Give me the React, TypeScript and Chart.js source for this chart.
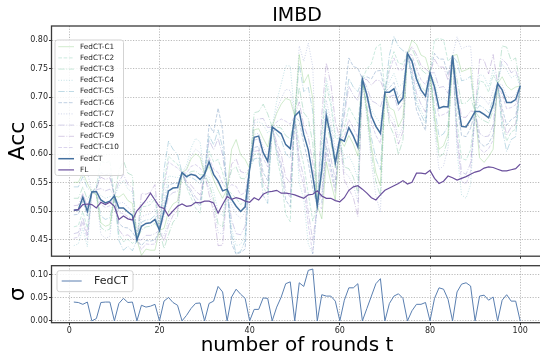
import React, { useEffect, useRef } from "react";
import { Chart, registerables } from "chart.js";

Chart.register(...registerables);

const FONT = '"DejaVu Sans", sans-serif';
Chart.defaults.font.family = FONT;

const ROUNDS = Array.from({ length: 100 }, (_, i) => i + 1);
const X_TICKS = [0, 20, 40, 60, 80, 100];
const ACC_TICKS = [0.45, 0.5, 0.55, 0.6, 0.65, 0.7, 0.75, 0.8];
const SIGMA_TICKS = [0, 0.05, 0.1];

const FEDCT = [
  .502, .503, .525, .500, .534, .535, .520, .515, .518, .527,
  .506, .506, .499, .493, .450, .474, .479, .480, .486, .467,
  .500, .536, .541, .542, .568, .561, .565, .563, .556, .565,
  .587, .565, .553, .536, .539, .521, .509, .500, .508, .575,
  .630, .632, .603, .588, .648, .642, .636, .617, .610, .667,
  .675, .635, .608, .562, .510, .573, .668, .632, .585, .627,
  .623, .647, .632, .613, .732, .704, .667, .649, .637, .709,
  .709, .715, .689, .699, .777, .763, .732, .713, .702, .743,
  .718, .681, .684, .683, .773, .699, .649, .648, .661, .675,
  .675, .670, .664, .687, .724, .713, .691, .691, .696, .720,
];

const FL = [
  .502, .503, .512, .513, .512, .506, .516, .512, .516, .509,
  .486, .492, .487, .485, .501, .510, .520, .532, .520, .508,
  .505, .492, .501, .509, .513, .509, .510, .516, .515, .518,
  .518, .515, .497, .512, .526, .521, .524, .522, .518, .516,
  .524, .520, .530, .534, .535, .537, .532, .532, .531, .529,
  .526, .523, .529, .530, .536, .527, .523, .523, .519, .517,
  .524, .537, .543, .545, .539, .532, .524, .520, .529, .537,
  .541, .545, .549, .554, .548, .551, .567, .567, .566, .572,
  .558, .549, .553, .562, .559, .555, .558, .561, .565, .569,
  .571, .576, .578, .577, .574, .571, .571, .573, .575, .583,
];

const SIGMA = [
  .041, .040, .036, .041, 0, .005, .040, .041, .041, 0,
  .038, .049, .040, .041, 0, .034, .030, .032, .036, 0,
  .043, .051, .040, .034, 0, .012, .027, .038, .039, 0,
  .038, .043, .075, .063, 0, .052, .069, .058, .049, 0,
  .025, .025, .050, .049, 0, .030, .052, .081, .085, 0,
  .083, .075, .110, .113, 0, .057, .054, .054, .043, 0,
  .045, .072, .072, .081, 0, .027, .054, .081, .092, 0,
  .038, .054, .059, .049, 0, .022, .036, .036, .040, 0,
  .049, .072, .069, .047, 0, .063, .080, .083, .076, 0,
  .054, .056, .045, .052, 0, .045, .057, .043, .043, 0,
];

const CLIENT_1 = [
  .551, .551, .568, .549, .534, .530, .480, .474, .477, .527,
  .525, .531, .519, .514, .450, .423, .434, .432, .432, .467,
  .470, .500, .513, .518, .568, .573, .592, .601, .595, .565,
  .579, .556, .538, .523, .539, .609, .626, .599, .591, .575,
  .643, .645, .628, .613, .648, .672, .688, .698, .695, .667,
  .775, .725, .740, .698, .510, .487, .587, .551, .520, .627,
  .614, .633, .618, .597, .732, .677, .613, .568, .545, .709,
  .682, .677, .648, .665, .777, .800, .793, .774, .770, .743,
  .669, .609, .615, .636, .773, .775, .745, .748, .752, .675,
  .594, .586, .596, .609, .724, .736, .720, .713, .718, .720,
];
const CLIENT_2 = [
  .473, .475, .500, .471, .534, .544, .588, .585, .588, .527,
  .460, .447, .451, .444, .450, .508, .509, .512, .522, .467,
  .552, .597, .589, .583, .568, .543, .524, .506, .497, .565,
  .606, .587, .591, .568, .539, .531, .523, .512, .518, .575,
  .600, .602, .543, .529, .648, .597, .558, .495, .482, .667,
  .617, .582, .531, .483, .510, .630, .722, .686, .628, .627,
  .646, .683, .668, .654, .732, .750, .759, .787, .793, .709,
  .755, .780, .760, .758, .777, .767, .739, .720, .710, .743,
  .801, .803, .801, .763, .773, .655, .593, .590, .608, .675,
  .729, .726, .709, .739, .724, .659, .623, .639, .644, .720,
];
const CLIENT_3 = [
  .523, .523, .543, .521, .534, .529, .472, .466, .469, .527,
  .571, .589, .567, .563, .450, .467, .473, .474, .479, .467,
  .435, .459, .481, .491, .568, .563, .570, .571, .564, .565,
  .549, .522, .478, .473, .539, .573, .578, .558, .557, .575,
  .673, .675, .688, .671, .648, .648, .646, .633, .627, .667,
  .717, .673, .663, .619, .510, .562, .657, .621, .576, .627,
  .578, .575, .560, .532, .732, .672, .602, .552, .527, .709,
  .652, .634, .600, .625, .777, .785, .768, .749, .742, .743,
  .659, .595, .601, .627, .773, .731, .689, .690, .699, .675,
  .664, .659, .655, .677, .724, .790, .788, .764, .769, .720,
];
const CLIENT_4 = [
  .440, .443, .471, .438, .534, .536, .528, .523, .526, .527,
  .544, .555, .539, .534, .450, .515, .515, .518, .529, .467,
  .522, .562, .561, .559, .568, .581, .611, .628, .622, .565,
  .560, .535, .500, .492, .539, .469, .440, .442, .459, .575,
  .655, .657, .653, .637, .648, .693, .724, .755, .755, .667,
  .550, .522, .443, .425, .510, .641, .733, .697, .637, .627,
  .591, .597, .582, .556, .732, .709, .678, .665, .655, .709,
  .728, .742, .719, .724, .777, .741, .696, .677, .662, .743,
  .728, .695, .698, .692, .773, .604, .529, .523, .547, .675,
  .740, .737, .718, .749, .724, .758, .748, .734, .739, .720,
];
const CLIENT_5 = [
  .543, .543, .561, .541, .534, .532, .492, .486, .489, .527,
  .449, .432, .439, .431, .450, .481, .485, .486, .493, .467,
  .573, .623, .609, .600, .568, .559, .560, .555, .548, .565,
  .633, .617, .643, .612, .539, .459, .426, .430, .449, .575,
  .592, .594, .528, .514, .648, .636, .626, .601, .593, .667,
  .758, .710, .718, .675, .510, .584, .679, .643, .594, .627,
  .677, .733, .718, .710, .732, .685, .629, .592, .573, .709,
  .774, .807, .789, .782, .777, .737, .689, .670, .654, .743,
  .684, .631, .636, .650, .773, .762, .729, .731, .737, .675,
  .686, .681, .673, .697, .724, .645, .605, .626, .631, .720,
];
const CLIENT_6 = [
  .494, .495, .518, .492, .534, .541, .568, .564, .567, .527,
  .479, .472, .471, .464, .450, .440, .449, .448, .450, .467,
  .509, .546, .549, .549, .568, .547, .533, .517, .509, .565,
  .652, .638, .681, .643, .539, .443, .425, .428, .434, .575,
  .612, .614, .568, .554, .648, .606, .574, .520, .508, .667,
  .658, .620, .586, .539, .510, .516, .614, .578, .542, .627,
  .700, .769, .754, .751, .732, .736, .732, .746, .747, .709,
  .717, .726, .701, .709, .777, .730, .678, .659, .642, .743,
  .777, .767, .767, .739, .773, .686, .633, .631, .646, .675,
  .621, .614, .619, .635, .724, .681, .651, .661, .666, .720,
];
const CLIENT_7 = [
  .572, .571, .586, .570, .534, .528, .460, .453, .456, .527,
  .514, .516, .507, .501, .450, .491, .494, .496, .504, .467,
  .457, .485, .501, .508, .568, .575, .597, .609, .603, .565,
  .541, .513, .463, .460, .539, .511, .495, .488, .498, .575,
  .635, .637, .613, .598, .648, .678, .698, .714, .712, .667,
  .790, .763, .795, .754, .510, .602, .695, .659, .607, .627,
  .569, .561, .546, .516, .732, .663, .586, .527, .499, .709,
  .671, .661, .630, .650, .777, .759, .725, .706, .694, .743,
  .644, .573, .580, .612, .773, .806, .785, .789, .790, .675,
  .702, .698, .687, .713, .724, .722, .702, .700, .705, .720,
];
const CLIENT_8 = [
  .461, .463, .489, .459, .534, .538, .540, .536, .539, .527,
  .552, .565, .547, .542, .450, .450, .458, .458, .461, .467,
  .491, .526, .533, .535, .568, .549, .538, .525, .517, .565,
  .625, .608, .628, .599, .539, .485, .461, .459, .474, .575,
  .660, .662, .663, .647, .648, .612, .584, .536, .525, .667,
  .592, .560, .498, .449, .510, .533, .630, .594, .555, .627,
  .668, .719, .704, .694, .732, .718, .694, .690, .683, .709,
  .701, .704, .677, .689, .777, .748, .707, .688, .674, .743,
  .743, .717, .719, .707, .773, .636, .569, .565, .585, .675,
  .637, .631, .632, .651, .724, .767, .759, .743, .748, .720,
];
const CLIENT_9 = [
  .510, .511, .532, .508, .534, .540, .560, .556, .559, .527,
  .468, .457, .459, .452, .450, .532, .530, .534, .547, .467,
  .448, .475, .493, .501, .568, .553, .546, .536, .529, .565,
  .530, .500, .440, .441, .539, .583, .592, .570, .567, .575,
  .605, .607, .553, .539, .648, .621, .600, .560, .550, .667,
  .692, .650, .630, .585, .510, .670, .760, .724, .658, .627,
  .555, .539, .524, .491, .732, .731, .721, .730, .729, .709,
  .663, .650, .618, .640, .777, .789, .775, .756, .750, .743,
  .767, .753, .753, .730, .773, .712, .665, .665, .676, .675,
  .767, .765, .741, .775, .724, .668, .634, .648, .653, .720,
];
const CLIENT_10 = [
  .453, .455, .482, .451, .534, .534, .512, .507, .510, .527,
  .498, .496, .491, .485, .450, .433, .443, .442, .443, .467,
  .543, .587, .581, .576, .568, .567, .579, .582, .576, .565,
  .595, .574, .568, .549, .539, .547, .544, .529, .533, .575,
  .625, .627, .593, .578, .648, .657, .662, .658, .653, .667,
  .575, .545, .476, .426, .510, .505, .603, .567, .533, .627,
  .632, .661, .646, .629, .732, .699, .656, .633, .619, .709,
  .747, .769, .748, .748, .777, .774, .750, .731, .722, .743,
  .708, .667, .670, .674, .773, .623, .553, .548, .570, .675,
  .610, .603, .610, .625, .724, .704, .680, .682, .687, .720,
];

const CLIENT_LABELS = [
  "FedCT-C1", "FedCT-C2", "FedCT-C3", "FedCT-C4", "FedCT-C5",
  "FedCT-C6", "FedCT-C7", "FedCT-C8", "FedCT-C9", "FedCT-C10",
];
const CLIENT_SERIES = [
  CLIENT_1, CLIENT_2, CLIENT_3, CLIENT_4, CLIENT_5,
  CLIENT_6, CLIENT_7, CLIENT_8, CLIENT_9, CLIENT_10,
];

const CLIENT_COLORS = [
  "rgba(140,205,130,0.40)", "rgba(115,198,165,0.36)", "rgba(100,185,145,0.36)",
  "rgba(90,175,185,0.36)", "rgba(80,155,185,0.36)", "rgba(80,125,175,0.36)",
  "rgba(120,135,195,0.36)", "rgba(135,125,195,0.36)", "rgba(145,115,185,0.36)",
  "rgba(155,135,205,0.36)",
];
const DASH_SOLID: number[] = [];
const DASH_DASHED = [3.7, 1.6];
const DASH_DASHDOT = [6.4, 1.6, 1, 1.6];
const DASH_DOTTED = [1, 1.65];
const CLIENT_DASHES = [
  DASH_SOLID, DASH_DASHED, DASH_DASHDOT, DASH_DOTTED, DASH_DASHDOT,
  DASH_DASHED, DASH_DOTTED, DASH_DASHDOT, DASH_DASHDOT, DASH_DASHED,
];

const FEDCT_COLOR = "#44709f";
const FL_COLOR = "#6a4f9c";
const SIGMA_COLOR = "#5a7fb0";
const TEXT_COLOR = "#262626";
const GRID_COLOR = "rgba(170,170,170,1)";

function roundRect(ctx: CanvasRenderingContext2D, x: number, y: number, w: number, h: number, r: number) {
  ctx.beginPath();
  ctx.moveTo(x + r, y);
  ctx.lineTo(x + w - r, y);
  ctx.arcTo(x + w, y, x + w, y + r, r);
  ctx.lineTo(x + w, y + h - r);
  ctx.arcTo(x + w, y + h, x + w - r, y + h, r);
  ctx.lineTo(x + r, y + h);
  ctx.arcTo(x, y + h, x, y + h - r, r);
  ctx.lineTo(x, y + r);
  ctx.arcTo(x, y, x + r, y, r);
  ctx.closePath();
}

const framePlugin = {
  id: "frame",
  afterDatasetsDraw(chart: any) {
    const { ctx, chartArea: a } = chart;
    ctx.save();
    ctx.setLineDash([]);
    ctx.strokeStyle = "#3a3a3a";
    ctx.lineWidth = 1.3;
    ctx.strokeRect(a.left, a.top, a.right - a.left, a.bottom - a.top);
    ctx.restore();
  },
};

const boxLegendPlugin = {
  id: "boxLegend",
  afterDraw(chart: any, _args: any, o: any) {
    if (!o || !o.show) return;
    const ctx: CanvasRenderingContext2D = chart.ctx;
    ctx.save();
    roundRect(ctx, o.x, o.y, o.w, o.h, 2.5);
    ctx.fillStyle = "rgba(255,255,255,0.85)";
    ctx.fill();
    ctx.strokeStyle = "#d3d3d3";
    ctx.lineWidth = 1;
    ctx.setLineDash([]);
    ctx.stroke();
    chart.data.datasets.forEach((d: any, i: number) => {
      const y = o.firstY + i * o.rowH;
      ctx.beginPath();
      ctx.setLineDash(d.borderDash || []);
      ctx.strokeStyle = d.borderColor;
      ctx.lineWidth = d.borderWidth;
      ctx.moveTo(o.lx0, y);
      ctx.lineTo(o.lx1, y);
      ctx.stroke();
      ctx.setLineDash([]);
      ctx.fillStyle = TEXT_COLOR;
      ctx.font = `${o.fontSize}px ${FONT}`;
      ctx.textBaseline = "middle";
      ctx.textAlign = "left";
      ctx.fillText(d.label, o.tx, y);
    });
    ctx.restore();
  },
};

function gridOpts() {
  return {
    color: GRID_COLOR,
    lineWidth: 0.8,
    tickColor: "#333333",
    tickLength: 2.5,
    tickWidth: 1,
  };
}
const borderOpts = { display: false, dash: [1.2, 1.5] };
const tickFont = { family: FONT, size: 8 };

export default function App() {
  const topRef = useRef<HTMLCanvasElement>(null);
  const botRef = useRef<HTMLCanvasElement>(null);

  useEffect(() => {
    const clientSets = CLIENT_SERIES.map((s, i) => ({
      label: CLIENT_LABELS[i],
      data: s,
      borderColor: CLIENT_COLORS[i],
      borderWidth: 1,
      borderDash: CLIENT_DASHES[i],
      pointRadius: 0,
      order: 2,
    }));
    const top = new Chart(topRef.current as HTMLCanvasElement, {
      type: "line",
      data: {
        labels: ROUNDS,
        datasets: [
          ...clientSets,
          { label: "FedCT", data: FEDCT, borderColor: FEDCT_COLOR, borderWidth: 1.5, borderDash: [], pointRadius: 0, order: 1 },
          { label: "FL", data: FL, borderColor: FL_COLOR, borderWidth: 1.2, borderDash: [], pointRadius: 0, order: 0 },
        ] as any,
      },
      options: {
        animation: false,
        responsive: false,
        devicePixelRatio: 1,
        layout: { padding: { top: 0, left: 0, right: 17.5, bottom: 0 } },
        elements: { line: { tension: 0 }, point: { radius: 0 } },
        plugins: {
          legend: { display: false },
          tooltip: { enabled: false },
          title: {
            display: true,
            text: "IMBD",
            fullSize: false,
            color: "#000",
            font: { family: FONT, size: 19, weight: "normal", lineHeight: 1 },
            padding: { top: 6.5, bottom: 0.5 },
          },
          boxLegend: {
            show: true, x: 55, y: 40, w: 68.5, h: 135.5,
            firstY: 46.7, rowH: 11.2, lx0: 58.3, lx1: 74, tx: 80, fontSize: 7.3,
          },
        } as any,
        scales: {
          x: {
            type: "linear",
            min: -3.95,
            max: 104.95,
            afterBuildTicks: (s: any) => { s.ticks = X_TICKS.map((v) => ({ value: v })); },
            afterFit: (s: any) => { s.height = 5; },
            ticks: { display: false },
            grid: gridOpts(),
            border: borderOpts,
          },
          y: {
            min: 0.4215,
            max: 0.825,
            afterBuildTicks: (s: any) => { s.ticks = ACC_TICKS.map((v) => ({ value: v })); },
            afterFit: (s: any) => { s.width = 51.5; },
            ticks: { font: tickFont, color: TEXT_COLOR, padding: 1, callback: (v: any) => Number(v).toFixed(2) },
            grid: gridOpts(),
            border: borderOpts,
            title: {
              display: true,
              text: "Acc",
              color: "#000",
              font: { family: FONT, size: 22, lineHeight: 1 },
              padding: { top: 7.5, bottom: 0 },
            },
          },
        } as any,
      },
      plugins: [framePlugin, boxLegendPlugin],
    });

    const bot = new Chart(botRef.current as HTMLCanvasElement, {
      type: "line",
      data: {
        labels: ROUNDS,
        datasets: [
          { label: "FedCT", data: SIGMA, borderColor: SIGMA_COLOR, borderWidth: 1, borderDash: [], pointRadius: 0 },
        ] as any,
      },
      options: {
        animation: false,
        responsive: false,
        devicePixelRatio: 1,
        layout: { padding: { top: 7.7, left: 0, right: 17.5, bottom: 0 } },
        elements: { line: { tension: 0 }, point: { radius: 0 } },
        plugins: {
          legend: { display: false },
          tooltip: { enabled: false },
          boxLegend: {
            show: true, x: 57, y: 12.7, w: 76, h: 21,
            firstY: 23, rowH: 12, lx0: 61.7, lx1: 81.7, tx: 94, fontSize: 11,
          },
        } as any,
        scales: {
          x: {
            type: "linear",
            min: -3.95,
            max: 104.95,
            afterBuildTicks: (s: any) => { s.ticks = X_TICKS.map((v) => ({ value: v })); },
            afterFit: (s: any) => { s.height = 33.3; },
            ticks: { font: tickFont, color: TEXT_COLOR, padding: 1, maxRotation: 0 },
            grid: gridOpts(),
            border: borderOpts,
            title: {
              display: true,
              text: "number of rounds t",
              color: "#000",
              font: { family: FONT, size: 20, lineHeight: 1 },
              padding: { top: 0, bottom: 0.2 },
            },
          },
          y: {
            min: -0.004,
            max: 0.1202,
            afterBuildTicks: (s: any) => { s.ticks = SIGMA_TICKS.map((v) => ({ value: v })); },
            afterFit: (s: any) => { s.width = 51.5; },
            ticks: { font: tickFont, color: TEXT_COLOR, padding: 1, callback: (v: any) => Number(v).toFixed(2) },
            grid: gridOpts(),
            border: borderOpts,
            title: {
              display: true,
              text: "σ",
              color: "#000",
              font: { family: FONT, size: 22, lineHeight: 1 },
              padding: { top: 7.5, bottom: 0 },
            },
          },
        } as any,
      },
      plugins: [framePlugin, boxLegendPlugin],
    });

    return () => {
      top.destroy();
      bot.destroy();
    };
  }, []);

  return (
    <div style={{ position: "absolute", left: 0, top: 0, width: 540, height: 356, overflow: "hidden", background: "#fff" }}>
      <canvas ref={topRef} width={560} height={262} style={{ position: "absolute", left: 0, top: 0, width: 560, height: 262 }} />
      <canvas ref={botRef} width={560} height={98} style={{ position: "absolute", left: 0, top: 258, width: 560, height: 98 }} />
    </div>
  );
}
